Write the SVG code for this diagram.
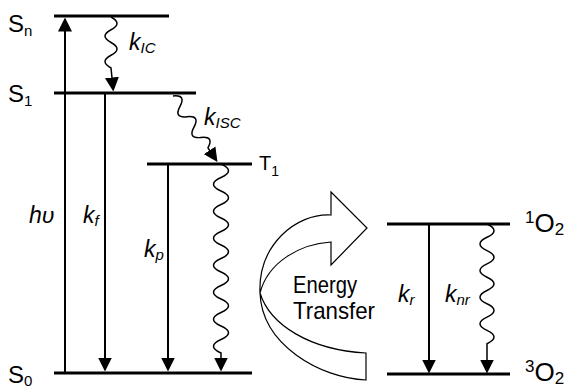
<svg xmlns="http://www.w3.org/2000/svg" width="574" height="389" viewBox="0 0 574 389">
<style>
  text { font-family: "Liberation Sans", Arial, sans-serif; fill: #000; }
  .lvl { stroke: #000; stroke-width: 3; fill: none; }
  .arr { stroke: #000; stroke-width: 2; fill: none; marker-end: url(#ah); }
  .wav { stroke: #000; stroke-width: 1.5; fill: none; marker-end: url(#ah); }
  .lab { font-size: 24px; }
  .k { font-size: 23px; font-style: italic; }
  .ks { font-size: 15px; font-style: italic; }
  .sub { font-size: 15px; }
</style>
<defs>
  <marker id="ah" viewBox="0 0 14 14" markerWidth="14" markerHeight="14" markerUnits="userSpaceOnUse" refX="0.5" refY="7" orient="auto">
    <path d="M0,0 L14,7 L0,14 Z" fill="#000"/>
  </marker>
</defs>
<rect width="574" height="389" fill="#fff"/>

<g id="Sn">
  <line class="lvl" x1="54" y1="16" x2="169" y2="16"/>
  <text class="lab" x="8" y="32">S<tspan class="sub" dy="4">n</tspan></text>
</g>
<g id="S1">
  <line class="lvl" x1="54" y1="93" x2="196" y2="93"/>
  <text class="lab" x="8" y="102">S<tspan class="sub" dy="4">1</tspan></text>
</g>
<g id="T1">
  <line class="lvl" x1="147" y1="164" x2="252" y2="164"/>
  <text x="259" y="170" font-size="20">T<tspan font-size="14" dy="6">1</tspan></text>
</g>
<g id="S0">
  <line class="lvl" x1="54" y1="373" x2="252" y2="373"/>
  <text class="lab" x="8" y="383">S<tspan class="sub" dy="3">0</tspan></text>
</g>
<g id="O2-singlet">
  <line class="lvl" x1="387" y1="224" x2="510" y2="224"/>
  <text x="525" y="232" font-size="26"><tspan font-size="17" y="223">1</tspan><tspan y="232">O</tspan><tspan font-size="17" y="235">2</tspan></text>
</g>
<g id="O2-triplet">
  <line class="lvl" x1="387" y1="374" x2="510" y2="374"/>
  <text x="525" y="381" font-size="26"><tspan font-size="17" y="372">3</tspan><tspan y="381">O</tspan><tspan font-size="17" y="384">2</tspan></text>
</g>
<g id="energy-transfer">
  <path d="M331,215 C296,213 258,245 260,293 C262,345 320,378 366,380 L366,353 C310,350 270,325 260,293 C268,262 300,244 331,242 L331,265 L367,228 L331,192 Z" fill="#fff" stroke="#000" stroke-width="1.2" stroke-linejoin="miter"/>
  <text x="293" y="293" font-size="24" textLength="64" lengthAdjust="spacingAndGlyphs">Energy</text>
  <text x="293" y="319" font-size="24" textLength="82" lengthAdjust="spacingAndGlyphs">Transfer</text>
</g>

<g id="connectors">
  <line class="arr" x1="65" y1="373" x2="65" y2="31"/>
  <text class="k" x="29" y="223">hυ</text>

  <path class="wav" d="M111,17 q12,6.4 0,12.75 t0,12.75 t0,12.75 t0,12.75 L112,78"/>
  <text class="k" x="129" y="50">k<tspan class="ks" dy="3">IC</tspan></text>

  <line class="arr" x1="105" y1="93" x2="105" y2="358"/>
  <text class="k" x="83" y="223">k<tspan class="ks" dy="3">f</tspan></text>

  <g transform="translate(173,96) rotate(56)">
    <path class="wav" d="M0,0 q6.25,-12 12.5,0 t12.5,0 t12.5,0 t12.5,0 t12.5,0 L66,0"/>
  </g>
  <text class="k" x="204" y="125">k<tspan class="ks" dy="3">ISC</tspan></text>

  <line class="arr" x1="168" y1="164" x2="168" y2="358"/>
  <text class="k" x="144" y="257">k<tspan class="ks" dy="3">p</tspan></text>

  <path class="wav" d="M221,164 q15,6.75 0,13.5 t0,13.5 t0,13.5 t0,13.5 t0,13.5 t0,13.5 t0,13.5 t0,13.5 t0,13.5 t0,13.5 t0,13.5 t0,13.5 t0,13.5 t0,13.5 L221,358"/>

  <line class="arr" x1="429" y1="224" x2="429" y2="360"/>
  <text class="k" x="398" y="302">k<tspan class="ks" dy="3">r</tspan></text>

  <path class="wav" d="M487,224 q14,6.65 0,13.3 t0,13.3 t0,13.3 t0,13.3 t0,13.3 t0,13.3 t0,13.3 t0,13.3 t0,13.3 L487,360"/>
  <text class="k" x="445" y="302">k<tspan class="ks" dy="3">nr</tspan></text>
</g>
</svg>
